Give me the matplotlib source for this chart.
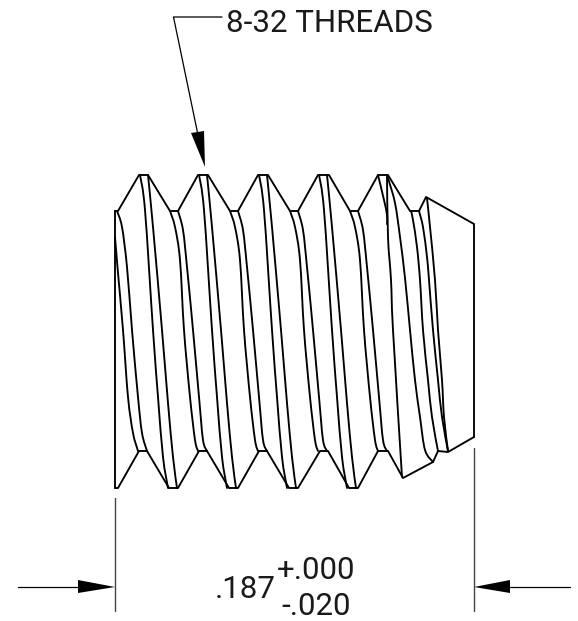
# set screw drawing, 8-32 threads
import matplotlib
matplotlib.use('Agg')
import numpy as np
import matplotlib.pyplot as plt
from matplotlib.path import Path
from matplotlib.patches import PathPatch

# outline, pixel coordinates
top_x = [115, 118, 139, 148, 170, 178, 198, 208, 230, 238, 258, 268, 290, 298, 318, 329, 350, 358, 378, 388, 410, 419, 426, 474, 474]
top_y = [211, 211, 175, 175, 211, 211, 175, 175, 211, 211, 175, 175, 211, 211, 175, 175, 211, 211, 175, 175, 211, 211, 197, 224, 437]
bottom_x = [115, 118, 139, 147, 169, 178, 199, 207, 229, 238, 259, 267, 289, 298, 320, 328, 349, 358, 378, 388, 403, 433, 438, 448, 474]
bottom_y = [488, 488, 451, 451, 488, 488, 451, 451, 488, 488, 451, 451, 488, 488, 451, 451, 488, 488, 451, 451, 478, 462, 451, 452, 437]
left_x = [115, 115]
left_y = [211, 488]

# thread curves that repeat every pitch
crest_a_x = [140, 145, 153, 158, 163, 168]
crest_a_y = [175, 210, 330, 397, 457, 488]
crest_b_x = [148, 153, 162, 168, 173, 177]
crest_b_y = [175, 227, 330, 403, 457, 488]
root_a_x = [170, 175, 180, 184, 190, 195, 198]
root_a_y = [211, 227, 260, 330, 397, 440, 451]
root_b_x = [178, 183, 187, 193, 199, 203, 207]
root_b_y = [211, 230, 267, 330, 397, 440, 451]
crest_offsets = [0, 59, 119, 179]
root_offsets = [0, 60, 120, 180]

# curves that only show up once, at the two ends
single_curves = [
    ([115, 118, 123, 128, 133, 138], [237, 273, 330, 397, 433, 451]),
    ([117, 122, 127, 132, 138, 142, 147], [211, 227, 267, 330, 397, 433, 451]),
    ([378, 384, 387, 387], [175, 200, 215, 224]),
    ([387, 388, 391, 393, 402], [175, 237, 280, 330, 477]),
    ([388, 395, 400, 405, 410, 415, 420, 425, 433], [178, 203, 237, 278, 330, 380, 417, 450, 462]),
    ([411, 413, 417, 420, 423, 428, 432, 438], [211, 220, 247, 280, 330, 380, 417, 451]),
    ([419, 423, 427, 429, 433, 438, 442, 448], [211, 227, 257, 280, 330, 380, 417, 451]),
    ([427, 430, 435, 438, 442, 444, 448], [198, 227, 280, 330, 380, 417, 451]),
]

# leader and dimension
leader_x = [222, 173.5, 198]
leader_y = [17, 17, 135]
ext_left_x = [115, 115]
ext_left_y = [498, 611]
ext_right_x = [474, 474]
ext_right_y = [448, 611]
dim_left_x = [18, 90]
dim_right_x = [497, 570]
dim_y = [587, 587]
head_top_x = [205, 191, 204]
head_top_y = [167, 133, 131]
head_left_x = [115, 78, 78]
head_left_y = [587, 580, 593]
head_right_x = [474, 510, 510]
head_right_y = [587, 580, 593]

title_text = '8-32 THREADS'
dim_text = '.187'
upper_text = '+.000'
lower_text = '-.020'

fig = plt.figure(figsize=(5.78, 6.21), dpi=100)
ax = fig.add_axes([0, 0, 1, 1])
ax.set_xlim(0, 578)
ax.set_ylim(621, 0)
ax.axis('off')

LW = 1.35
def draw(x, y, lw=LW, color='black'):
    ax.plot(x, y, color=color, lw=lw, solid_capstyle='round', solid_joinstyle='round')

# smooth curve through the read points (catmull-rom as beziers)
def draw_curve(x, y):
    p = np.column_stack([x, y]).astype(float)
    verts = [p[0]]
    codes = [Path.MOVETO]
    for i in range(len(p) - 1):
        p0 = p[max(i - 1, 0)]
        p3 = p[min(i + 2, len(p) - 1)]
        verts += [p[i] + (p[i + 1] - p0) / 6, p[i + 1] - (p3 - p[i]) / 6, p[i + 1]]
        codes += [Path.CURVE4] * 3
    ax.add_patch(PathPatch(Path(verts, codes), fc='none', ec='black', lw=LW, capstyle='round'))

draw(top_x, top_y)
draw(bottom_x, bottom_y)
draw(left_x, left_y)

for off in crest_offsets:
    draw_curve(np.array(crest_a_x) + off, crest_a_y)
    draw_curve(np.array(crest_b_x) + off, crest_b_y)
for off in root_offsets:
    draw_curve(np.array(root_a_x) + off, root_a_y)
    draw_curve(np.array(root_b_x) + off, root_b_y)
for x, y in single_curves:
    draw_curve(x, y)

# leader
draw(leader_x, leader_y, lw=0.9)
ax.fill(head_top_x, head_top_y, color='black', lw=0)

# dimension lines
draw(ext_left_x, ext_left_y, lw=1.0, color='#444444')
draw(ext_right_x, ext_right_y, lw=1.0, color='#444444')
draw(dim_left_x, dim_y, lw=0.9)
draw(dim_right_x, dim_y, lw=0.9)
ax.fill(head_left_x, head_left_y, color='black', lw=0)
ax.fill(head_right_x, head_right_y, color='black', lw=0)

font = 'Roboto'
ax.text(226, 32, title_text, fontsize=22.5, family=font, ha='left', va='baseline', color='#1a1a1a')
ax.text(215, 598, dim_text, fontsize=22.5, family=font, ha='left', va='baseline', color='#1a1a1a')
ax.text(277, 579, upper_text, fontsize=22.5, family=font, ha='left', va='baseline', color='#1a1a1a')
ax.text(281, 615, lower_text, fontsize=22.5, family=font, ha='left', va='baseline', color='#1a1a1a')

fig.savefig('out.png', dpi=100)
